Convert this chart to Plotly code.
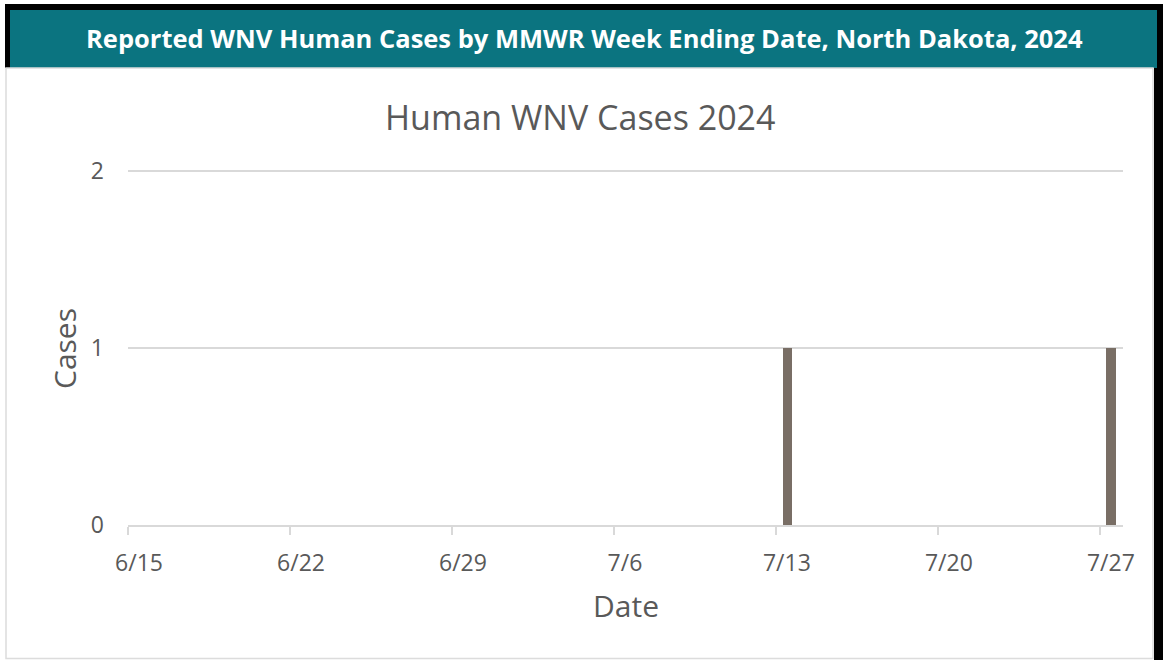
import plotly.graph_objects as go

# ---- data ----
dates = ["2024-07-13", "2024-07-27"]
cases = [1, 1]
tick_dates = ["2024-06-15", "2024-06-22", "2024-06-29", "2024-07-06",
              "2024-07-13", "2024-07-20", "2024-07-27"]
tick_labels = ["6/15", "6/22", "6/29", "7/6", "7/13", "7/20", "7/27"]
y_ticks = [0, 1, 2]

header_text = "Reported WNV Human Cases by MMWR Week Ending Date, North Dakota, 2024"
chart_title = "Human WNV Cases 2024"

W, H = 1170, 660
L, R, T, B = 128, 1123, 169, 525  # plot area in page pixels

def px(x):
    return (x - L) / (R - L)

def py(y):
    return (B - y) / (B - T)

FONT = "Segoe UI, Open Sans, Noto Sans, sans-serif"
GRAY = "#595959"
GRID = "#d9d9d9"

fig = go.Figure()
fig.add_trace(go.Bar(
    x=dates, y=cases,
    xperiod=86400000, xperiodalignment="middle",
    width=0.43 * 86400000,
    marker=dict(color="#796e65", line=dict(width=0)),
    hoverinfo="x+y",
))

shapes = [
    # dark frame / shadow
    dict(type="rect", xref="paper", yref="paper", x0=px(5), x1=px(1163), y0=py(4), y1=py(68),
         fillcolor="black", line=dict(width=0), layer="below"),
    dict(type="rect", xref="paper", yref="paper", x0=px(1154), x1=px(1163), y0=py(68), y1=py(662),
         fillcolor="black", line=dict(width=0), layer="below"),
    # header bar
    dict(type="rect", xref="paper", yref="paper", x0=px(10), x1=px(1157), y0=py(10), y1=py(68),
         fillcolor="#0b7480", line=dict(width=0), layer="below"),
    # white panel
    dict(type="rect", xref="paper", yref="paper", x0=px(6), x1=px(1153), y0=py(68), y1=py(658.5),
         fillcolor="white", line=dict(color="#dcdcdc", width=1.5), layer="below"),
]

annotations = [
    dict(text=header_text, xref="paper", yref="paper", x=px(584), y=py(38),
         showarrow=False, xanchor="center", yanchor="middle",
         font=dict(family=FONT, size=25.5, color="white", weight="bold")),
    dict(text=chart_title, xref="paper", yref="paper", x=px(580), y=py(117),
         showarrow=False, xanchor="center", yanchor="middle",
         font=dict(family=FONT, size=34, color=GRAY)),
    dict(text="Cases", xref="paper", yref="paper", x=px(64), y=py(349),
         showarrow=False, xanchor="center", yanchor="middle", textangle=-90,
         font=dict(family=FONT, size=30, color=GRAY)),
    dict(text="Date", xref="paper", yref="paper", x=px(626), y=py(605),
         showarrow=False, xanchor="center", yanchor="middle",
         font=dict(family=FONT, size=30, color=GRAY)),
]

fig.update_layout(
    width=W, height=H,
    margin=dict(l=L, r=W - R, t=T, b=H - B, pad=0),
    paper_bgcolor="white",
    plot_bgcolor="rgba(0,0,0,0)",
    showlegend=False,
    shapes=shapes,
    annotations=annotations,
    bargap=0,
    xaxis=dict(
        type="date",
        range=["2024-06-15", "2024-07-28"],
        tickvals=tick_dates, ticktext=tick_labels,
        showgrid=False, zeroline=False,
        showline=True, linecolor=GRID, linewidth=1.5,
        ticks="outside", ticklen=8, tickcolor=GRID, tickwidth=1.5,
        tickfont=dict(family=FONT, size=23, color=GRAY),
        ticklabelstandoff=9,
        ticklabelshift=11,
        fixedrange=True,
    ),
    yaxis=dict(
        range=[0, 2.012],
        tickvals=y_ticks,
        showgrid=True, gridcolor=GRID, gridwidth=1.5,
        zeroline=False, showline=False, ticks="",
        tickfont=dict(family=FONT, size=23, color=GRAY),
        ticklabelstandoff=23,
        fixedrange=True,
    ),
)

fig.write_html(
    "out.html",
    config={"displayModeBar": False},
    post_script="document.body.style.margin='0';document.body.style.overflow='hidden';",
)
